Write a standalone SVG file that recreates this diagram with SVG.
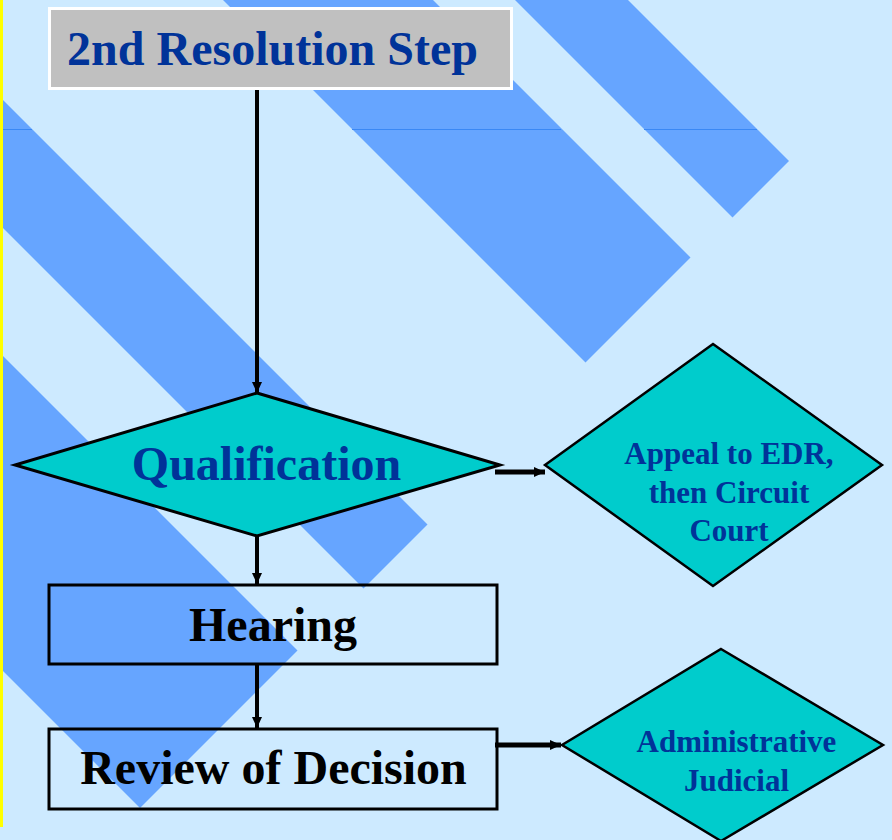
<svg xmlns="http://www.w3.org/2000/svg" width="892" height="840" viewBox="0 0 892 840">
  <style>
    .stripe { fill: #66a5ff; }
    .seam { stroke: #3a88f5; stroke-width: 1; }
    .dia { fill: #00cccc; stroke: #000; stroke-linejoin: miter; }
    .box { fill: none; stroke: #000; stroke-width: 3; }
    .conn { stroke: #000; fill: none; }
    .t { font-family: "Liberation Serif", "Times New Roman", serif; font-weight: bold; text-anchor: middle; }
    .blue { fill: #003399; }
    .black { fill: #000; }
  </style>
  <defs>
    <marker id="ah" markerUnits="userSpaceOnUse" markerWidth="12" markerHeight="10" refX="11" refY="5" orient="auto">
      <path d="M0,0 L11,5 L0,10 z" fill="#000"/>
    </marker>
  </defs>

  <!-- background -->
  <rect x="0" y="0" width="892" height="840" fill="#cdeaff"/>
  <g id="stripes">
    <polygon class="stripe" points="223,0 433,0 690.5,257.5 585.5,362.5"/>
    <polygon class="stripe" points="515,0 628,0 789,161 732.5,217.5"/>
    <polygon class="stripe" points="0,97 427.5,524.5 363.5,588.5 0,225"/>
    <polygon class="stripe" points="0,353 297.5,650.5 140,808 0,668"/>
  </g>
  <g id="seam">
    <line class="seam" x1="0" y1="129.5" x2="32" y2="129.5"/>
    <line class="seam" x1="352" y1="129.5" x2="561" y2="129.5"/>
    <line class="seam" x1="644" y1="129.5" x2="757" y2="129.5"/>
  </g>
  <rect x="0" y="0" width="3" height="827" fill="#ffff00"/>

  <!-- connectors -->
  <g id="connectors">
    <line class="conn" x1="257" y1="88" x2="257" y2="393" stroke-width="4" marker-end="url(#ah)"/>
    <line class="conn" x1="257" y1="536" x2="257" y2="584" stroke-width="4" marker-end="url(#ah)"/>
    <line class="conn" x1="257" y1="664" x2="257" y2="728" stroke-width="4" marker-end="url(#ah)"/>
    <line class="conn" x1="495" y1="472" x2="545" y2="472" stroke-width="5" marker-end="url(#ah)"/>
    <line class="conn" x1="495" y1="745" x2="561" y2="745" stroke-width="5" marker-end="url(#ah)"/>
  </g>

  <!-- nodes -->
  <g id="title">
    <rect x="49.5" y="8.5" width="462" height="80" fill="#c0c0c0" stroke="#ffffff" stroke-width="3"/>
    <text class="t blue" x="272.5" y="65" font-size="48">2nd Resolution Step</text>
  </g>

  <g id="qualification">
    <polygon class="dia" stroke-width="3" points="257,393 500,465 257,536 15,465"/>
    <text class="t blue" x="266.5" y="480" font-size="48">Qualification</text>
  </g>

  <g id="appeal">
    <polygon class="dia" stroke-width="2.5" points="713,344 882,465 713,586 545,465"/>
    <text class="t blue" x="729" y="464" font-size="31">Appeal to EDR,</text>
    <text class="t blue" x="729" y="503" font-size="31">then Circuit</text>
    <text class="t blue" x="729" y="541" font-size="31">Court</text>
  </g>

  <g id="hearing">
    <rect class="box" x="49" y="585" width="448" height="79"/>
    <text class="t black" x="273" y="641" font-size="48">Hearing</text>
  </g>

  <g id="review">
    <rect class="box" x="49" y="729" width="448" height="80"/>
    <text class="t black" x="273.5" y="784" font-size="48">Review of Decision</text>
  </g>

  <g id="admin">
    <polygon class="dia" stroke-width="2.5" points="721,649 883,745 721,841 562,745"/>
    <text class="t blue" x="736.5" y="752" font-size="31">Administrative</text>
    <text class="t blue" x="736.5" y="791" font-size="31">Judicial</text>
  </g>
</svg>
